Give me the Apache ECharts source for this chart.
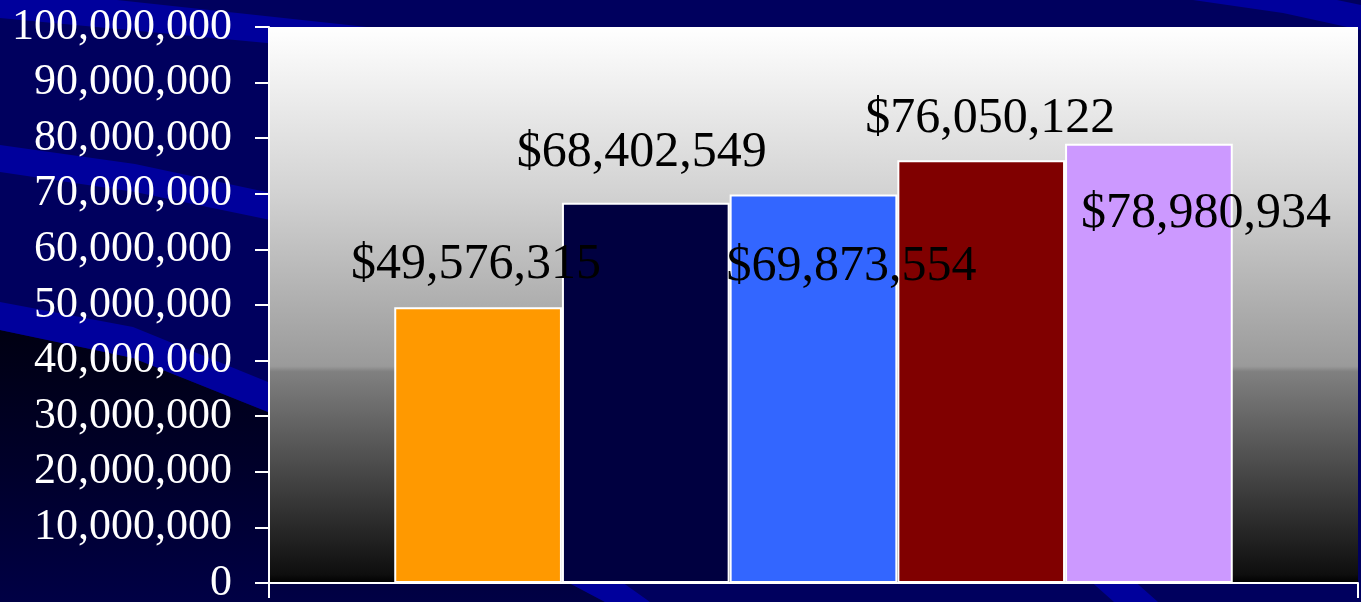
<!DOCTYPE html>
<html>
<head>
<meta charset="utf-8">
<script src="https://cdn.jsdelivr.net/npm/echarts@6/dist/echarts.min.js"></script>
<style>
html,body{margin:0;padding:0;background:#00005E;}
#chart{width:1361px;height:602px;}
</style>
</head>
<body>
<div id="chart"></div>
<script>
// ---- data ----
var categories = [''];
var seriesNames = ['Series 1', 'Series 2', 'Series 3', 'Series 4', 'Series 5'];
var seriesValues = [49576315, 68402549, 69873554, 76050122, 78980934];
var seriesColors = ['#FF9900', '#000040', '#3366FF', '#800000', '#CC99FF'];
var yTickValues = [0, 10000000, 20000000, 30000000, 40000000, 50000000, 60000000, 70000000, 80000000, 90000000, 100000000];
// label placement relative to bar top (dx, dy) as in the original picture
var labelOffsets = [[-2, -42], [-4, -50], [38, 72], [9, -41], [57, 70]];

function fmt(v) {
  return String(Math.round(v)).replace(/\B(?=(\d{3})+(?!\d))/g, ',');
}

var FONT = 'Liberation Serif';

var series = seriesValues.map(function (v, i) {
  return {
    name: seriesNames[i],
    type: 'bar',
    data: [v],
    barGap: '0%',
    barCategoryGap: '23%',
    itemStyle: { color: seriesColors[i], borderColor: '#ffffff', borderWidth: 2 },
    label: {
      show: true,
      position: 'top',
      distance: 0,
      verticalAlign: 'middle',
      align: 'center',
      offset: labelOffsets[i],
      color: '#000000',
      fontFamily: FONT,
      fontSize: 50,
      formatter: function (p) { return '$' + fmt(p.value); }
    },
    z: 2
  };
});

var BLUE = '#00009C';
var option = {
  backgroundColor: '#00005E',
  animation: false,
  graphic: {
    elements: [
      { type: 'polygon', z: -10, silent: true,
        shape: { points: [[0,330],[133,358],[268,412],[450,520],[605,602],[0,602]] },
        style: { fill: { type: 'linear', x: 0, y: 0, x2: 0, y2: 1, colorStops: [
          { offset: 0, color: '#000012' }, { offset: 0.5, color: '#00002A' }, { offset: 1, color: '#000045' }] } } },
      { type: 'polygon', z: -9, silent: true,
        shape: { points: [[0,0],[117,0],[367,27],[367,60],[267,43],[0,18]] },
        style: { fill: BLUE } },
      { type: 'polygon', z: -9, silent: true,
        shape: { points: [[0,145],[135,164],[285,196],[285,223],[135,192],[0,172]] },
        style: { fill: BLUE } },
      { type: 'polygon', z: -9, silent: true,
        shape: { points: [[0,302],[133,327],[268,382],[500,495],[650,602],[605,602],[450,520],[268,412],[133,358],[0,330]] },
        style: { fill: BLUE } },
      { type: 'polygon', z: -9, silent: true,
        shape: { points: [[1078,570],[1122,570],[1158,602],[1114,602]] },
        style: { fill: BLUE } },
      { type: 'polygon', z: -9, silent: true,
        shape: { points: [[1193,0],[1337,0],[1361,5],[1361,30],[1283,13]] },
        style: { fill: BLUE } }
    ]
  },
  grid: {
    left: 269, right: 3, top: 27, bottom: 19,
    containLabel: false,
    outerBoundsMode: 'none',
    show: true,
    borderWidth: 0,
    backgroundColor: { type: 'linear', x: 0, y: 0, x2: 0, y2: 1, colorStops: [
      { offset: 0, color: '#ffffff' },
      { offset: 0.3, color: '#d2d2d2' },
      { offset: 0.61, color: '#9a9a9a' },
      { offset: 0.62, color: '#808080' },
      { offset: 0.985, color: '#0e0e0e' },
      { offset: 1, color: '#000000' }] }
  },
  xAxis: {
    type: 'category',
    data: categories,
    axisLine: { show: true, lineStyle: { color: '#ffffff', width: 2 } },
    axisTick: { show: true, length: 15, lineStyle: { color: '#ffffff', width: 2 } },
    axisLabel: { show: false },
    splitLine: { show: false }
  },
  yAxis: {
    type: 'value',
    min: yTickValues[0],
    max: yTickValues[yTickValues.length - 1],
    interval: yTickValues[1] - yTickValues[0],
    axisLine: { show: true, lineStyle: { color: '#ffffff', width: 2 } },
    axisTick: { show: true, length: 14, lineStyle: { color: '#ffffff', width: 2 } },
    splitLine: { show: false },
    axisLabel: {
      color: '#ffffff',
      fontFamily: FONT,
      fontSize: 44,
      margin: 37,
      padding: [5, 0, 0, 0],
      formatter: function (v) { return fmt(v); }
    }
  },
  series: series
};

var chart = echarts.init(document.getElementById('chart'), null, { renderer: 'canvas' });
chart.setOption(option);
</script>
</body>
</html>
